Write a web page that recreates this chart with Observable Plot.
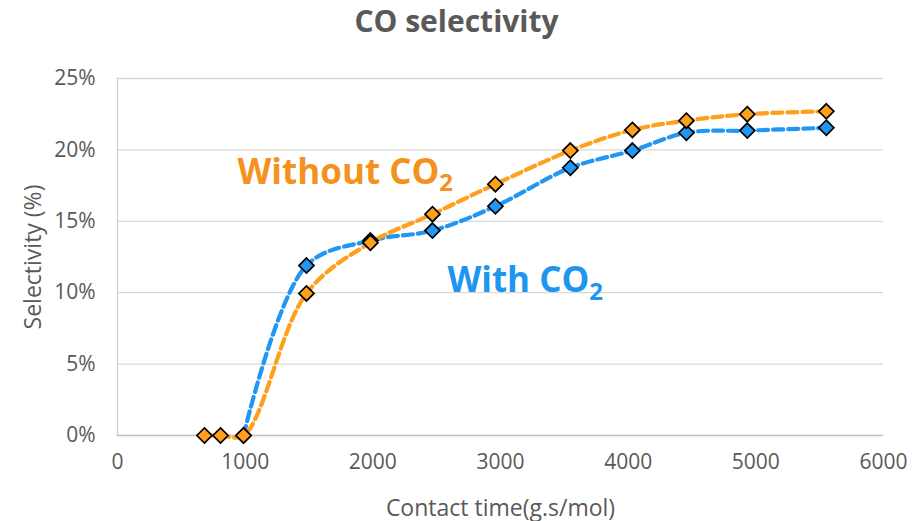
<!DOCTYPE html>
<html><head><meta charset="utf-8">
<script src="https://cdn.jsdelivr.net/npm/d3@7"></script>
<script src="https://cdn.jsdelivr.net/npm/@observablehq/plot@0.6"></script>
<style>
body{margin:0;background:#fff;}
svg{font-family:"Open Sans","Liberation Sans",sans-serif;}
</style></head><body><div id="chart"></div>
<script>
const xWithout = [681, 807, 987, 1480, 1981, 2467, 2960, 3547, 4033, 4456, 4933, 5552];
const yWithout = [0, 0, 0, 9.95, 13.5, 15.5, 17.6, 19.95, 21.4, 22.05, 22.5, 22.7];
const xWith = [987, 1480, 1981, 2467, 2960, 3547, 4033, 4456, 4933, 5552];
const yWith = [0, 11.9, 13.65, 14.35, 16.05, 18.75, 19.95, 21.2, 21.35, 21.55];
const yTicks = [0, 5, 10, 15, 20, 25];
const xTicks = [0, 1000, 2000, 3000, 4000, 5000, 6000];

const orange = "#FF9F1C", blue = "#2196F3";
const without = xWithout.map((x, i) => ({x, y: yWithout[i]}));
const withd = xWith.map((x, i) => ({x, y: yWith[i]}));
const labels = [
  {x: 940, y: 18.4, t: "Without CO2", c: "#F5921E"},
  {x: 2584, y: 10.8, t: "With CO2", c: "#1E96F0"}
];

const chart = Plot.plot({
  width: 912, height: 521,
  marginLeft: 117, marginRight: 29, marginTop: 78, marginBottom: 86,
  x: {domain: [0, 6000]},
  y: {domain: [0, 25]},
  style: {color: "#595959"},
  marks: [
    Plot.ruleY(yTicks.slice(1), {stroke: "#d9d9d9", strokeWidth: 1.3}),
    Plot.ruleY([0], {stroke: "#bfbfbf", strokeWidth: 1.5}),
    Plot.ruleX([0], {stroke: "#d0d0d0", strokeWidth: 1.3}),
    Plot.axisX({ticks: xTicks, tickSize: 0, tickPadding: 19, tickFormat: d3.format("d"), fontSize: 21, fill: "#595959", label: null}),
    Plot.axisY({ticks: yTicks, tickSize: 0, tickPadding: 22, tickFormat: d => d + "%", fontSize: 21, fill: "#595959", label: null}),
    Plot.axisX({ticks: [], tickSize: 0, fontSize: 23, fill: "#595959",
      label: "Contact time(g.s/mol)", labelAnchor: "center", labelArrow: "none", labelOffset: 80}),
    Plot.axisY({ticks: [], tickSize: 0, fontSize: 23, fill: "#595959",
      label: "Selectivity (%)", labelAnchor: "center", labelArrow: "none", labelOffset: 93}),
    Plot.line(withd, {x: "x", y: "y", stroke: blue, strokeWidth: 4.2, strokeDasharray: "10,5", curve: "catmull-rom"}),
    Plot.line(without, {x: "x", y: "y", stroke: orange, strokeWidth: 4.2, strokeDasharray: "10,5", curve: "catmull-rom"}),
    Plot.dot(withd, {x: "x", y: "y", symbol: "diamond2", r: 6.8, fill: blue, stroke: "#000", strokeWidth: 1.7}),
    Plot.dot(without, {x: "x", y: "y", symbol: "diamond2", r: 6.8, fill: orange, stroke: "#000", strokeWidth: 1.7}),
    Plot.text(labels, {x: "x", y: "y", text: "t", fill: "c", fontSize: 35, fontWeight: "bold", textAnchor: "start", className: "anno"}),
    Plot.text(["CO selectivity"], {frameAnchor: "top", lineAnchor: "middle", dx: -44, dy: -56, fontSize: 30, fontWeight: "bold", fill: "#595959"})
  ]
});
document.getElementById("chart").appendChild(chart);

// render subscripts for the annotation labels
d3.select(chart).selectAll("g.anno text").each(function() {
  const el = d3.select(this);
  const s = el.text();
  if (s.endsWith("CO2")) {
    el.text(s.slice(0, -1));
    el.append("tspan").attr("dy", "0.3em").attr("font-size", "24").text("2");
  }
});
</script></body></html>
